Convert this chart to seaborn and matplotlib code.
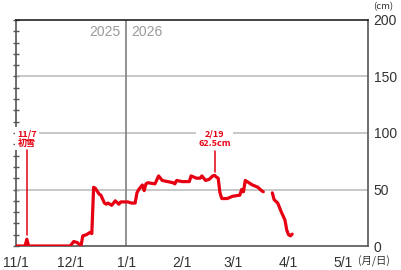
import numpy as np
import pandas as pd
import seaborn as sns
import matplotlib
matplotlib.use("Agg")
import matplotlib.pyplot as plt
from matplotlib.ticker import MultipleLocator

# ---- data (snow depth, cm) ----
dates = [
    "2025-11-01", "2025-11-06", "2025-11-07", "2025-11-08", "2025-12-01", "2025-12-03",
    "2025-12-05", "2025-12-07", "2025-12-08", "2025-12-10", "2025-12-12", "2025-12-13",
    "2025-12-14", "2025-12-15", "2025-12-17", "2025-12-18", "2025-12-20", "2025-12-21",
    "2025-12-22", "2025-12-24", "2025-12-26", "2025-12-28", "2025-12-29", "2025-12-31",
    "2026-01-02", "2026-01-04", "2026-01-06", "2026-01-07", "2026-01-08", "2026-01-10",
    "2026-01-11", "2026-01-12", "2026-01-13", "2026-01-17", "2026-01-19", "2026-01-21",
    "2026-01-24", "2026-01-27", "2026-01-28", "2026-01-29", "2026-02-01", "2026-02-05",
    "2026-02-06", "2026-02-09", "2026-02-11", "2026-02-12", "2026-02-14", "2026-02-16",
    "2026-02-18", "2026-02-19", "2026-02-20", "2026-02-21", "2026-02-22", "2026-02-23",
    "2026-02-26", "2026-03-01", "2026-03-05", "2026-03-06", "2026-03-07", "2026-03-08",
    "2026-03-10", "2026-03-12", "2026-03-15", "2026-03-17", "2026-03-18",
    "2026-03-23", "2026-03-24", "2026-03-26", "2026-03-28", "2026-03-30", "2026-03-31",
    "2026-04-01", "2026-04-02", "2026-04-03",
]
depth = [
    0, 0, 6, 0, 0, 4,
    3, 0, 9, 10, 12, 11,
    52, 51, 46, 45, 38, 37,
    38, 36, 40, 37, 39, 39,
    39, 38, 38, 47, 50, 54,
    49, 55, 56, 55, 62, 58,
    57, 56, 55, 58, 57, 57,
    62, 60, 60, 62, 58, 59,
    62, 62.5, 61, 60, 47, 42,
    42, 44, 45, 50, 48, 58,
    56, 54, 52, 49, 48,
    47, 41, 38, 30, 23, 14,
    10, 9, 10.5,
]
second_segment_start = "2026-03-20"

tick_dates = ["2025-11-01", "2025-12-01", "2026-01-01", "2026-02-01",
              "2026-03-01", "2026-04-01", "2026-05-01"]
tick_labels = ["11/1", "12/1", "1/1", "2/1", "3/1", "4/1", "5/1"]
y_ticks = [0, 50, 100, 150, 200]

origin = pd.Timestamp("2025-11-01")
df = pd.DataFrame({"date": pd.to_datetime(dates), "depth": depth})
df["day"] = (df["date"] - origin).dt.days
df["seg"] = np.where(df["date"] >= pd.Timestamp(second_segment_start), 2, 1)
tick_pos = [(pd.Timestamp(d) - origin).days for d in tick_dates]

RED = "#e60012"
AX = "#555555"
LABEL_FONT = ["Liberation Sans", "DejaVu Sans"]
CJK = ["Noto Sans CJK JP", "DejaVu Sans"]

sns.set_style("white")
plt.rcParams["font.family"] = LABEL_FONT

fig = plt.figure(figsize=(4.01, 2.70), dpi=100)
ax = fig.add_axes([16 / 401, 1 - 246 / 270, (368 - 16) / 401, (246 - 20) / 270])

# grid lines
for g in [50, 100, 150]:
    ax.axhline(g, color="#bdbdbd", lw=1.2, zorder=1)
# year divider
ax.axvline(tick_pos[2], color="#808080", lw=1.2, zorder=2)

sns.lineplot(data=df, x="day", y="depth", units="seg", estimator=None,
             color=RED, lw=2.3, ax=ax, zorder=5, legend=False)

ax.set_xlim(0, 195)
ax.set_ylim(0, 200)
ax.set_xlabel("")
ax.set_ylabel("")

# x ticks
ax.set_xticks(tick_pos)
ax.set_xticklabels(tick_labels)
ax.tick_params(axis="x", direction="in", length=5, width=1, color=AX,
               labelsize=10, labelcolor="#333333", pad=7.5)

# y ticks on right (labels) and left (minor only)
ax.yaxis.set_major_locator(MultipleLocator(10))
ax.tick_params(axis="y", which="major", direction="inout", length=5, width=1,
               color=AX, left=True, right=True, labelleft=False, labelright=False)
ax2 = ax.twinx()
ax2.set_ylim(0, 200)
ax2.set_yticks(y_ticks)
ax2.set_yticklabels([str(v) for v in y_ticks])
ax2.tick_params(axis="y", length=0, labelsize=10, labelcolor="#333333", pad=4)
for s in ax2.spines.values():
    s.set_visible(False)

for side in ["left", "bottom", "right"]:
    ax.spines[side].set_visible(True)
    ax.spines[side].set_color(AX)
    ax.spines[side].set_linewidth(1.2)
ax.spines["top"].set_visible(True)
ax.spines["top"].set_color("#222222")
ax.spines["top"].set_linewidth(1.2)

# year labels
ax.text(tick_pos[2] - 3, 189, "2025", ha="right", va="center", fontsize=10, color="#9a9a9a")
ax.text(tick_pos[2] + 3, 189, "2026", ha="left", va="center", fontsize=10, color="#9a9a9a")

# annotations
bbox = dict(boxstyle="square,pad=0.25", fc="white", ec="none")
ax.text(6, 95, "11/7\n初雪", ha="center", va="center", fontsize=6.5, color=RED,
        family=CJK, fontweight="bold", linespacing=1.15, bbox=bbox, zorder=6)
ax.plot([6, 6], [85, 9.5], color=RED, lw=1.1, zorder=6)
d219 = (pd.Timestamp("2026-02-19") - origin).days
ax.text(d219, 95, "2/19\n62.5cm", ha="center", va="center", fontsize=6.5, color=RED,
        family=CJK, fontweight="bold", linespacing=1.15, bbox=bbox, zorder=6)
ax.plot([d219, d219], [84, 65.5], color=RED, lw=1.1, zorder=6)

# units
fig.text(383 / 401, 1 - 7 / 270, "(cm)", ha="center", va="center", fontsize=6.8,
         color="#333333", family=CJK)
fig.text(374 / 401, 1 - 261 / 270, "(月/日)", ha="center", va="center", fontsize=7.5,
         color="#333333", family=CJK)

fig.savefig("out.png", dpi=100)
